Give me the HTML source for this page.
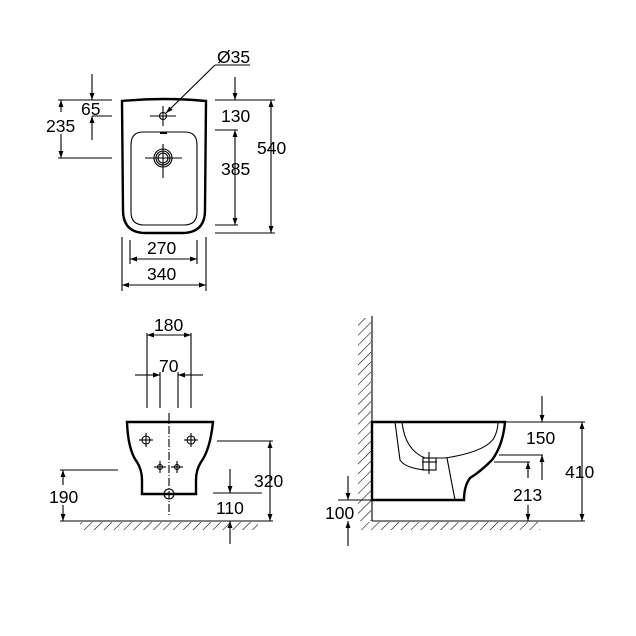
<!DOCTYPE html>
<html><head><meta charset="utf-8"><style>
html,body{margin:0;padding:0;background:#fff;}
svg{display:block;}
text{font-family:"Liberation Sans",Arial,sans-serif;font-size:17.5px;fill:#000;}
</style></head><body>
<svg width="636" height="636" viewBox="0 0 636 636" xmlns="http://www.w3.org/2000/svg">
<defs>
<marker id="a" viewBox="0 0 10 10" refX="10" refY="5" markerWidth="7" markerHeight="7" orient="auto-start-reverse" markerUnits="userSpaceOnUse"><path d="M0,1.5 L10,5 L0,8.5 Z" fill="#000"/></marker>
<pattern id="h" width="7" height="7" patternUnits="userSpaceOnUse" patternTransform="rotate(45)"><line x1="0" y1="0" x2="0" y2="7" stroke="#000" stroke-width="1.1"/></pattern>
</defs>
<g stroke="#000" fill="none" stroke-width="1.1">
<!-- TOP VIEW -->
<path d="M122,101 Q164,97 206,101 L205,210 Q205,233 182,233 L146,233 Q123,233 123,210 Z" stroke-width="2.4"/>
<path d="M143,132 L185,132 Q197,132 197,145 L197,212 Q197,225 184,225 L144,225 Q131,225 131,212 L131,145 Q131,132 143,132 Z"/>
<circle cx="163" cy="116" r="3.5"/>
<line x1="150" y1="116" x2="176" y2="116"/><line x1="163" y1="106" x2="163" y2="126"/>
<circle cx="163" cy="158" r="9"/><circle cx="163" cy="158" r="7"/><circle cx="163" cy="158" r="5"/>
<line x1="145" y1="158" x2="182" y2="158"/><line x1="163" y1="144" x2="163" y2="178"/>
<line x1="160" y1="133" x2="167" y2="133" stroke-width="2"/>
<line x1="215" y1="65" x2="166" y2="113" marker-end="url(#a)"/><line x1="215" y1="65" x2="250" y2="65"/>
<line x1="58" y1="100" x2="112" y2="100"/><line x1="92" y1="116" x2="112" y2="116"/><line x1="58" y1="158" x2="112" y2="158"/>
<line x1="92" y1="74" x2="92" y2="100" marker-end="url(#a)"/><line x1="92" y1="140" x2="92" y2="116" marker-end="url(#a)"/>
<line x1="61" y1="112" x2="61" y2="100" marker-end="url(#a)"/><line x1="61" y1="134" x2="61" y2="158" marker-end="url(#a)"/>
<line x1="215" y1="100" x2="275" y2="100"/><line x1="215" y1="130" x2="238" y2="130"/><line x1="215" y1="225" x2="238" y2="225"/><line x1="215" y1="233" x2="275" y2="233"/>
<line x1="235" y1="77" x2="235" y2="100" marker-end="url(#a)"/>
<line x1="235" y1="130" x2="235" y2="225" marker-start="url(#a)" marker-end="url(#a)"/>
<line x1="271" y1="100" x2="271" y2="233" marker-start="url(#a)" marker-end="url(#a)"/>
<line x1="122" y1="237" x2="122" y2="291"/><line x1="206" y1="237" x2="206" y2="291"/>
<line x1="130" y1="240" x2="130" y2="264"/><line x1="197" y1="240" x2="197" y2="264"/>
<line x1="130" y1="259" x2="197" y2="259" marker-start="url(#a)" marker-end="url(#a)"/>
<line x1="122" y1="285" x2="206" y2="285" marker-start="url(#a)" marker-end="url(#a)"/>

<!-- FRONT VIEW -->
<line x1="147" y1="333" x2="147" y2="408"/><line x1="191" y1="333" x2="191" y2="408"/>
<line x1="147" y1="335" x2="191" y2="335" marker-start="url(#a)" marker-end="url(#a)"/>
<line x1="160" y1="372" x2="160" y2="408"/><line x1="178" y1="372" x2="178" y2="408"/>
<line x1="135" y1="375" x2="147" y2="375"/><line x1="147" y1="375" x2="160" y2="375" marker-end="url(#a)"/>
<line x1="203" y1="375" x2="191" y2="375"/><line x1="191" y1="375" x2="178" y2="375" marker-end="url(#a)"/>
<path d="M127,422 L213,422 Q210,450 201,462 Q196,470 196,480 L196,494 L142,494 L142,480 Q142,470 137,462 Q128,450 127,422 Z" stroke-width="2.4"/>
<line x1="169" y1="413" x2="169" y2="515" stroke-dasharray="8,2,1,2"/>
<circle cx="146" cy="440" r="4"/><line x1="139" y1="440" x2="153" y2="440"/><line x1="146" y1="433" x2="146" y2="447"/>
<circle cx="191" cy="440" r="4"/><line x1="184" y1="440" x2="198" y2="440"/><line x1="191" y1="433" x2="191" y2="447"/>
<circle cx="160" cy="467" r="2.5"/><line x1="154" y1="467" x2="166" y2="467"/><line x1="160" y1="461" x2="160" y2="473"/>
<circle cx="177" cy="467" r="2.5"/><line x1="171" y1="467" x2="183" y2="467"/><line x1="177" y1="461" x2="177" y2="473"/>
<circle cx="169" cy="494" r="5"/>
<line x1="60" y1="470" x2="118" y2="470"/>
<line x1="63" y1="485" x2="63" y2="470" marker-end="url(#a)"/><line x1="63" y1="505" x2="63" y2="521" marker-end="url(#a)"/>
<line x1="60" y1="521" x2="273" y2="521"/>
<rect x="80" y="522" width="178" height="8" fill="url(#h)" stroke="none"/>
<line x1="217" y1="441" x2="273" y2="441"/>
<line x1="270" y1="441" x2="270" y2="521" marker-start="url(#a)" marker-end="url(#a)"/>
<line x1="213" y1="493" x2="262" y2="493"/>
<line x1="230" y1="469" x2="230" y2="493" marker-end="url(#a)"/>
<line x1="230" y1="544" x2="230" y2="521" marker-end="url(#a)"/>

<!-- SIDE VIEW -->
<line x1="372" y1="316" x2="372" y2="521"/>
<rect x="358" y="318" width="13" height="203" fill="url(#h)" stroke="none"/>
<line x1="372" y1="521" x2="585" y2="521"/>
<rect x="360" y="522" width="180" height="8" fill="url(#h)" stroke="none"/>
<path d="M372,422 L505,422 Q503,445 492,460 Q480,472 470,478 Q464,486 464,500 L372,500 Z" stroke-width="2.4"/>
<path d="M395,422 L400,460 Q405,468 425,470"/>
<path d="M402,422 Q405,450 425,458 L445,458 Q485,452 494,438 Q498,430 498,422"/>
<rect x="423" y="458" width="13" height="12"/>
<line x1="429" y1="452" x2="429" y2="474"/><line x1="422" y1="462" x2="437" y2="462"/>
<line x1="447" y1="458" x2="455" y2="500"/>
<line x1="505" y1="422" x2="585" y2="422"/>
<line x1="542" y1="396" x2="542" y2="422" marker-end="url(#a)"/>
<line x1="499" y1="455" x2="543" y2="455"/>
<line x1="542" y1="480" x2="542" y2="455" marker-end="url(#a)"/>
<line x1="494" y1="462" x2="530" y2="462"/>
<line x1="528" y1="478" x2="528" y2="462" marker-end="url(#a)"/>
<line x1="528" y1="505" x2="528" y2="521" marker-end="url(#a)"/>
<line x1="582" y1="422" x2="582" y2="521" marker-start="url(#a)" marker-end="url(#a)"/>
<line x1="338" y1="500" x2="372" y2="500"/>
<line x1="348" y1="476" x2="348" y2="500" marker-end="url(#a)"/>
<line x1="348" y1="546" x2="348" y2="521" marker-end="url(#a)"/>
</g>
<g>
<text x="217" y="63">Ø35</text>
<text x="81" y="115">65</text>
<text x="46" y="132">235</text>
<text x="221" y="122">130</text>
<text x="221" y="175">385</text>
<text x="257" y="154">540</text>
<text x="147" y="254">270</text>
<text x="147" y="280">340</text>
<text x="154" y="331">180</text>
<text x="159" y="372">70</text>
<text x="49" y="503">190</text>
<text x="254" y="487">320</text>
<text x="216" y="514">110</text>
<text x="526" y="444">150</text>
<text x="513" y="501">213</text>
<text x="565" y="478">410</text>
<text x="325" y="519">100</text>
</g>
</svg>
</body></html>
